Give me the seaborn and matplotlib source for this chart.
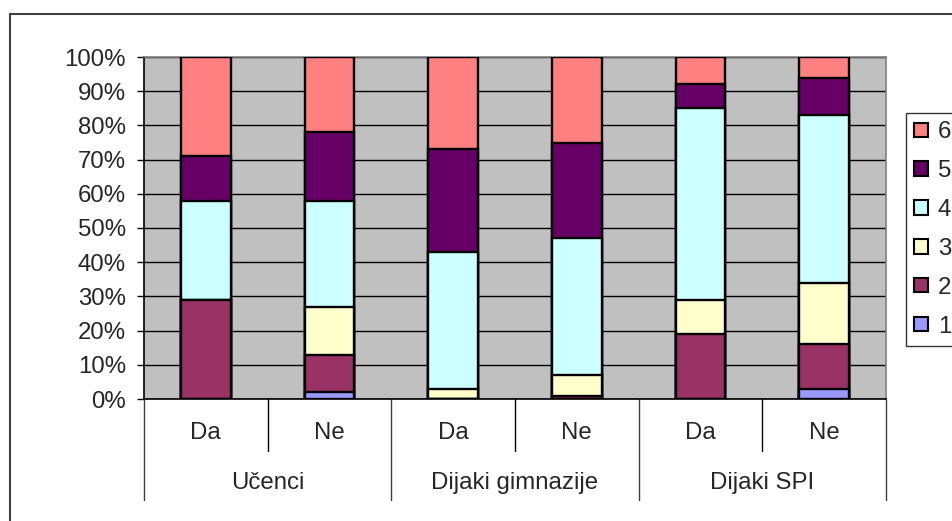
import pandas as pd
import numpy as np
import matplotlib
matplotlib.use("Agg")
import matplotlib.pyplot as plt
import seaborn as sns
from matplotlib.patches import Patch, Rectangle

# data (percent of each bar)
groups = ["Učenci", "Dijaki gimnazije", "Dijaki SPI"]
answers = ["Da", "Ne"]
levels = ["1", "2", "3", "4", "5", "6"]
v1 = [0, 2, 0, 0, 0, 3]
v2 = [29, 11, 0, 1, 19, 13]
v3 = [0, 14, 3, 6, 10, 18]
v4 = [29, 31, 40, 40, 56, 49]
v5 = [13, 20, 30, 28, 7, 11]
v6 = [29, 22, 27, 25, 8, 6]
colors = ["#9999FF", "#993366", "#FFFFCC", "#CCFFFF", "#660066", "#FF8080"]

bars = [g + " " + a for g in groups for a in answers]
df = pd.DataFrame({"bar": bars, "1": v1, "2": v2, "3": v3,
                   "4": v4, "5": v5, "6": v6})
cum = df[levels].cumsum(axis=1)
cum["bar"] = df["bar"]

sns.set_style("white")
plt.rcParams["font.family"] = ["Liberation Sans", "DejaVu Sans"]
fs = 17.3

fig = plt.figure(figsize=(9.53, 5.21), dpi=100)
ax = fig.add_axes([144 / 953, 1 - 399 / 521, 742 / 953, 342 / 521])
ax.set_facecolor("#C0C0C0")

# draw cumulative bars from the top level down so each covers the next
for lev, col in reversed(list(zip(levels, colors))):
    sns.barplot(data=cum, x="bar", y=lev, order=bars, color=col,
                saturation=1, width=0.4, edgecolor="black", linewidth=1.7,
                ax=ax, zorder=3)

ax.set_ylim(0, 100)
ax.set_xlim(-0.5, 5.5)
ax.set_yticks(np.arange(0, 101, 10))
ax.set_yticklabels([f"{t}%" for t in range(0, 101, 10)], fontsize=fs)
ax.yaxis.grid(True, color="black", linewidth=1, zorder=0)
ax.set_axisbelow(True)
ax.tick_params(axis="y", left=True, length=5, width=1, color="black", pad=8)
ax.set_xticks([])
ax.set_xlabel("")
ax.set_ylabel("")
for s in ax.spines.values():
    s.set_color("#808080")
    s.set_linewidth(1.2)
ax.spines["left"].set_color("black")
ax.spines["bottom"].set_color("black")

# two-level category axis
tr = ax.get_xaxis_transform()
for i, b in enumerate(bars):
    ax.text(i, -0.099, answers[i % 2], transform=tr, ha="center",
            va="center", fontsize=fs)
for j, g in enumerate(groups):
    ax.text(2 * j + 0.5, -0.246, g, transform=tr, ha="center",
            va="center", fontsize=fs)
for x in [0.5, 2.5, 4.5]:
    ax.plot([x, x], [0, -0.152], transform=tr, color="black", lw=1, clip_on=False)
for x in [-0.5, 1.5, 3.5, 5.5]:
    ax.plot([x, x], [0, -0.295], transform=tr, color="#404040", lw=1, clip_on=False)

# legend
handles = [Patch(facecolor=c, edgecolor="black", linewidth=1.5, label=l)
           for l, c in zip(levels, colors)][::-1]
leg = fig.legend(handles=handles, loc="upper left", fontsize=fs,
                 bbox_to_anchor=(906 / 953, 1 - 113 / 521), frameon=True,
                 fancybox=False, edgecolor="black", borderaxespad=0,
                 handlelength=0.55, handleheight=0.55, handletextpad=0.42,
                 labelspacing=0.7, borderpad=0.35)
leg.get_frame().set_linewidth(1)

# outer chart border
fig.patches.append(Rectangle((10 / 953, -0.1), 1.2, 1 - 14 / 521 + 0.1,
                             transform=fig.transFigure, fill=False,
                             edgecolor="#404040", linewidth=1.5))

fig.savefig("out.png", dpi=100)
